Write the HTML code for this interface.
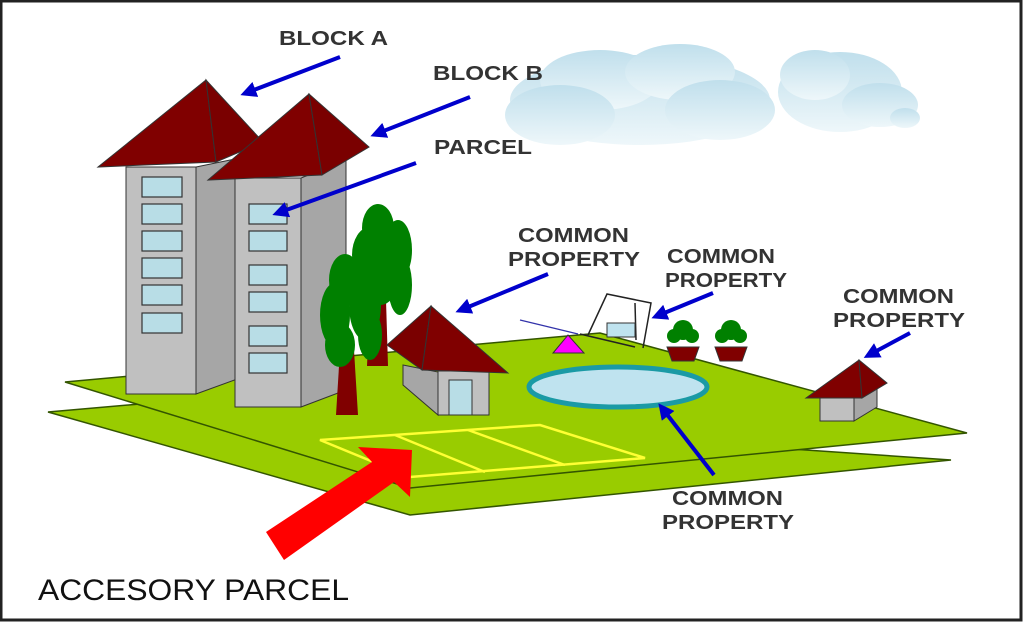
<!DOCTYPE html>
<html><head><style>
html,body{margin:0;padding:0;background:#fff;}
svg{display:block;}
text{font-family:"Liberation Sans",sans-serif;}
</style></head><body>
<svg width="1024" height="622" viewBox="0 0 1024 622" xmlns="http://www.w3.org/2000/svg">
<defs>
<linearGradient id="cl" x1="0" y1="0" x2="0" y2="1"><stop offset="0" stop-color="#c0dfec"/><stop offset="1" stop-color="#eef7fa"/></linearGradient>
<marker id="ah" markerWidth="4" markerHeight="4" refX="2.5" refY="2" orient="auto" markerUnits="strokeWidth"><path d="M0,0 L4,2 L0,4 z" fill="#0000cc"/></marker>
</defs>
<rect x="0" y="0" width="1024" height="622" fill="#fff"/>
<rect x="1" y="1" width="1020" height="619" fill="none" stroke="#222" stroke-width="3"/>
<g fill="url(#cl)">
<ellipse cx="640" cy="100" rx="130" ry="45"/><ellipse cx="600" cy="80" rx="60" ry="30"/><ellipse cx="680" cy="72" rx="55" ry="28"/><ellipse cx="720" cy="110" rx="55" ry="30"/><ellipse cx="560" cy="115" rx="55" ry="30"/>
<ellipse cx="840" cy="92" rx="62" ry="40"/><ellipse cx="815" cy="75" rx="35" ry="25"/><ellipse cx="880" cy="105" rx="38" ry="22"/><ellipse cx="905" cy="118" rx="15" ry="10"/>
</g>
<polygon points="48,412 140,404 951,460 410,515" fill="#99cc00" stroke="#335500" stroke-width="1.5"/>
<polygon points="65,382 600,333 967,433 410,488" fill="#99cc00" stroke="#335500" stroke-width="1.5"/>
<g stroke="#ffff33" stroke-width="2.5" fill="none">
<polygon points="320,440 540,425 645,458 410,477"/>
<line x1="395" y1="435" x2="485" y2="472"/><line x1="468" y1="430" x2="565" y2="465"/>
</g>
<polygon points="196,167 240,158 240,378 196,394" fill="#a6a6a6" stroke="#333"/>
<rect x="126" y="167" width="70" height="227" fill="#c0c0c0" stroke="#333"/>
<g fill="#b8dde6" stroke="#333" stroke-width="1.2">
<rect x="142" y="177" width="40" height="20"/><rect x="142" y="204" width="40" height="20"/><rect x="142" y="231" width="40" height="20"/><rect x="142" y="258" width="40" height="20"/><rect x="142" y="285" width="40" height="20"/><rect x="142" y="313" width="40" height="20"/>
</g>
<polygon points="98,167 206,80 216,162" fill="#800000" stroke="#333"/>
<polygon points="206,80 263,142 216,162" fill="#7a0000" stroke="#333"/>
<polygon points="301,178 346,160 346,390 301,407" fill="#a6a6a6" stroke="#333"/>
<rect x="235" y="178" width="66" height="229" fill="#c0c0c0" stroke="#333"/>
<g fill="#b8dde6" stroke="#333" stroke-width="1.2">
<rect x="249" y="204" width="38" height="20"/><rect x="249" y="231" width="38" height="20"/><rect x="249" y="265" width="38" height="20"/><rect x="249" y="292" width="38" height="20"/><rect x="249" y="326" width="38" height="20"/><rect x="249" y="353" width="38" height="20"/>
</g>
<polygon points="208,180 309,94 322,175" fill="#800000" stroke="#333"/>
<polygon points="309,94 369,147 322,175" fill="#7a0000" stroke="#333"/>
<polygon points="370,300 386,300 388,366 367,366" fill="#800000"/>
<g fill="#008000"><ellipse cx="378" cy="228" rx="16" ry="24"/><ellipse cx="370" cy="255" rx="18" ry="28"/><ellipse cx="398" cy="250" rx="14" ry="30"/><ellipse cx="400" cy="285" rx="12" ry="30"/><ellipse cx="380" cy="280" rx="18" ry="25"/></g>
<polygon points="340,350 354,350 358,415 336,415" fill="#800000"/>
<g fill="#008000"><ellipse cx="345" cy="280" rx="16" ry="26"/><ellipse cx="335" cy="315" rx="15" ry="32"/><ellipse cx="365" cy="305" rx="16" ry="35"/><ellipse cx="340" cy="345" rx="15" ry="22"/><ellipse cx="370" cy="335" rx="12" ry="25"/></g>
<polygon points="403,365 438,372 438,415 403,385" fill="#a6a6a6" stroke="#333"/>
<rect x="438" y="371" width="51" height="44" fill="#c0c0c0" stroke="#333"/>
<rect x="449" y="380" width="23" height="35" fill="#b8dde6" stroke="#333"/>
<polygon points="387,345 431,306 422,370" fill="#7a0000" stroke="#333"/>
<polygon points="431,306 508,373 422,370" fill="#800000" stroke="#333"/>
<ellipse cx="618" cy="387" rx="89" ry="20" fill="#bfe3ef" stroke="#1a9aa5" stroke-width="5"/>
<polygon points="553,353 584,353 568,335" fill="#ff00ff" stroke="#333"/>
<line x1="520" y1="320" x2="578" y2="334" stroke="#3333aa" stroke-width="1.2"/>
<g stroke="#222" stroke-width="1.5" fill="none">
<polyline points="588,335 607,294 651,303 643,348"/><line x1="635" y1="303" x2="636" y2="340"/><line x1="580" y1="334" x2="635" y2="347"/>
</g>
<rect x="607" y="323" width="28" height="14" fill="#bfe3ef" stroke="#333"/>
<g fill="#008000"><circle cx="683" cy="330" r="10"/><circle cx="674" cy="336" r="7"/><circle cx="692" cy="336" r="7"/><circle cx="731" cy="330" r="10"/><circle cx="722" cy="336" r="7"/><circle cx="740" cy="336" r="7"/></g>
<polygon points="667,347 699,347 694,361 672,361" fill="#800000" stroke="#333"/>
<polygon points="715,347 747,347 742,361 720,361" fill="#800000" stroke="#333"/>
<rect x="820" y="392" width="34" height="29" fill="#c0c0c0" stroke="#333"/>
<polygon points="854,392 877,380 877,407 854,421" fill="#a6a6a6" stroke="#333"/>
<polygon points="806,398 859,360 862,398" fill="#800000" stroke="#333"/>
<polygon points="859,360 887,383 862,398" fill="#7a0000" stroke="#333"/>
<polygon points="266,532 372,462 358,447 412,450 410,497 394,482 284,560" fill="#ff0000"/>
<g stroke="#0000cc" stroke-width="4" marker-end="url(#ah)">
<line x1="340" y1="57" x2="246" y2="93"/>
<line x1="470" y1="97" x2="376" y2="134"/>
<line x1="416" y1="163" x2="278" y2="213"/>
<line x1="548" y1="274" x2="461" y2="310"/>
<line x1="713" y1="293" x2="657" y2="316"/>
<line x1="910" y1="333" x2="869" y2="355"/>
<line x1="714" y1="475" x2="662" y2="408"/>
</g>
<g font-weight="bold" font-size="20" fill="#333" lengthAdjust="spacingAndGlyphs">
<text x="279" y="45" textLength="109" lengthAdjust="spacingAndGlyphs">BLOCK A</text>
<text x="433" y="80" textLength="110" lengthAdjust="spacingAndGlyphs">BLOCK B</text>
<text x="434" y="154" textLength="98" lengthAdjust="spacingAndGlyphs">PARCEL</text>
<text x="518" y="242" textLength="111" lengthAdjust="spacingAndGlyphs">COMMON</text><text x="508" y="266" textLength="132" lengthAdjust="spacingAndGlyphs">PROPERTY</text>
<text x="667" y="263" textLength="108" lengthAdjust="spacingAndGlyphs">COMMON</text><text x="665" y="287" textLength="122" lengthAdjust="spacingAndGlyphs">PROPERTY</text>
<text x="843" y="303" textLength="111" lengthAdjust="spacingAndGlyphs">COMMON</text><text x="833" y="327" textLength="132" lengthAdjust="spacingAndGlyphs">PROPERTY</text>
<text x="672" y="505" textLength="111" lengthAdjust="spacingAndGlyphs">COMMON</text><text x="662" y="529" textLength="132" lengthAdjust="spacingAndGlyphs">PROPERTY</text>
</g>
<text x="38" y="600" font-size="30" fill="#111" textLength="311" lengthAdjust="spacingAndGlyphs">ACCESORY PARCEL</text>
</svg>
</body></html>
